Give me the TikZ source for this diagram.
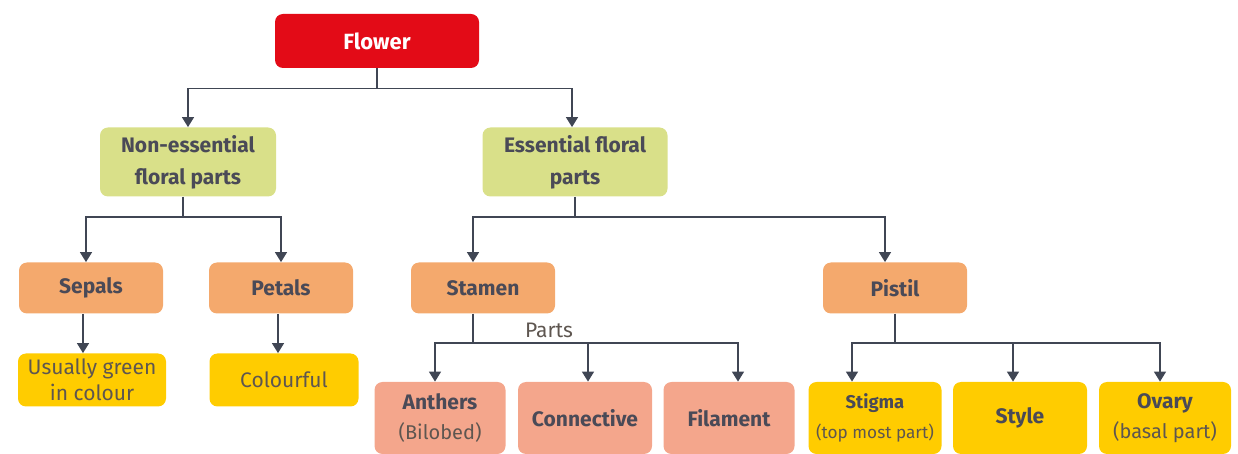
\documentclass[tikz,border=0pt]{standalone}
\usepackage{fontspec}
\setmainfont{Fira Sans}
\usepackage{tikz}
\usetikzlibrary{positioning,arrows.meta}

\definecolor{flowerred}{HTML}{E30B17}
\definecolor{partgreen}{HTML}{D9E089}
\definecolor{partorange}{HTML}{F4A96D}
\definecolor{partsalmon}{HTML}{F4A68C}
\definecolor{partyellow}{HTML}{FFCC00}
\definecolor{inkgray}{HTML}{4A4A57}
\definecolor{softgray}{HTML}{5E5650}
\definecolor{linegray}{HTML}{404654}

\begin{document}
\begin{tikzpicture}[
  box/.style={rectangle,rounded corners=4pt,align=center,inner sep=2pt,text=inkgray,
    font=\fontsize{10.5}{16}\selectfont\bfseries},
  root/.style={box,fill=flowerred,text=white,minimum width=102pt,minimum height=27pt,
    font=\fontsize{11}{13}\selectfont\bfseries},
  group/.style={box,fill=partgreen,minimum height=34.5pt},
  organ/.style={box,fill=partorange,minimum width=72pt,minimum height=25.5pt},
  note/.style={box,fill=partyellow,text=softgray,minimum width=74pt,minimum height=26.5pt,
    font=\fontsize{10.5}{13}\selectfont},
  sub/.style={box,minimum height=36pt,font=\fontsize{10.5}{15}\selectfont\bfseries},
  paren/.style={font=\fontsize{10}{15}\selectfont\mdseries},
  conn/.style={-{Triangle[length=5pt,width=6pt]},draw=linegray,line width=0.75pt}]
  \useasboundingbox (0,0) rectangle (619pt,-227pt);
  % top levels
  \node[root] (flower) at (188.5pt,-20.5pt) {Flower};
  \node[group,minimum width=88pt] (nonEss) at (94pt,-81pt) {Non-essential\\floral parts};
  \node[group,minimum width=92.5pt] (ess) at (287.5pt,-81pt) {Essential floral\\parts};
  \node[organ] (sepals) at (45.5pt,-144pt) {Sepals};
  \node[organ] (petals) at (140.5pt,-144pt) {Petals};
  \node[organ] (stamen) at (241.5pt,-144pt) {Stamen};
  \node[organ] (pistil) at (447.5pt,-144pt) {Pistil};
  \node[note] (green) at (46pt,-190pt) {Usually green\\in colour};
  \node[note,minimum width=74.5pt] (colourful) at (142pt,-190pt) {Colourful};
  % stamen parts
  \node[sub,fill=partsalmon,minimum width=65.5pt] (anthers) at (220pt,-209pt)
    {Anthers\\{\fontsize{10}{15}\selectfont\mdseries\color{softgray}(Bilobed)}};
  \node[sub,fill=partsalmon,minimum width=67pt] (connective) at (292.5pt,-209pt) {Connective};
  \node[sub,fill=partsalmon,minimum width=65.5pt] (filament) at (364.5pt,-209pt) {Filament};
  % pistil parts
  \node[sub,fill=partyellow,minimum width=66.5pt] (stigma) at (437.5pt,-209pt)
    {{\fontsize{9.2}{15}\selectfont Stigma}\\{\fontsize{8.6}{15}\selectfont\mdseries\color{softgray}(top most part)}};
  \node[sub,fill=partyellow,minimum width=67pt] (style) at (510pt,-209pt) {Style};
  \node[sub,fill=partyellow,minimum width=66pt] (ovary) at (582.5pt,-209pt)
    {Ovary\\{\fontsize{10}{15}\selectfont\mdseries\color{softgray}(basal part)}};
  \node[font=\fontsize{10.5}{12}\selectfont,text=softgray] (parts) at (274.5pt,-165pt) {Parts};
  % connectors
  \draw[conn] (flower.south) -- ++(0,-10pt) -| (nonEss.north);
  \draw[conn] (flower.south) -- ++(0,-10pt) -| ([xshift=-1.5pt]ess.north);
  \draw[conn] ([xshift=-2.5pt]nonEss.south) -- ++(0,-10pt) -| ([xshift=-2.5pt]sepals.north);
  \draw[conn] ([xshift=-2.5pt]nonEss.south) -- ++(0,-10pt) -| (petals.north);
  \draw[conn] (ess.south) -- ++(0,-10pt) -| ([xshift=-5pt]stamen.north);
  \draw[conn] (ess.south) -- ++(0,-10pt) -| ([xshift=-5pt]pistil.north);
  \draw[conn] ([xshift=-4pt]sepals.south) -- ([xshift=-4pt]sepals.south |- green.north);
  \draw[conn] ([xshift=-1.5pt]petals.south) -- ([xshift=-1.5pt]petals.south |- colourful.north);
  \draw[conn] ([xshift=-5pt]stamen.south) -- ++(0,-14.5pt) -| ([xshift=-2.5pt]anthers.north);
  \draw[conn] ([xshift=-5pt]stamen.south) -- ++(0,-14.5pt) -| ([xshift=1.5pt]connective.north);
  \draw[conn] ([xshift=-5pt]stamen.south) -- ++(0,-14.5pt) -| ([xshift=4.5pt]filament.north);
  \draw[conn] (pistil.south) -- ++(0,-14.5pt) -| ([xshift=-11.5pt]stigma.north);
  \draw[conn] (pistil.south) -- ++(0,-14.5pt) -| ([xshift=-3.5pt]style.north);
  \draw[conn] (pistil.south) -- ++(0,-14.5pt) -| ([xshift=-2.5pt]ovary.north);
\end{tikzpicture}
\end{document}
